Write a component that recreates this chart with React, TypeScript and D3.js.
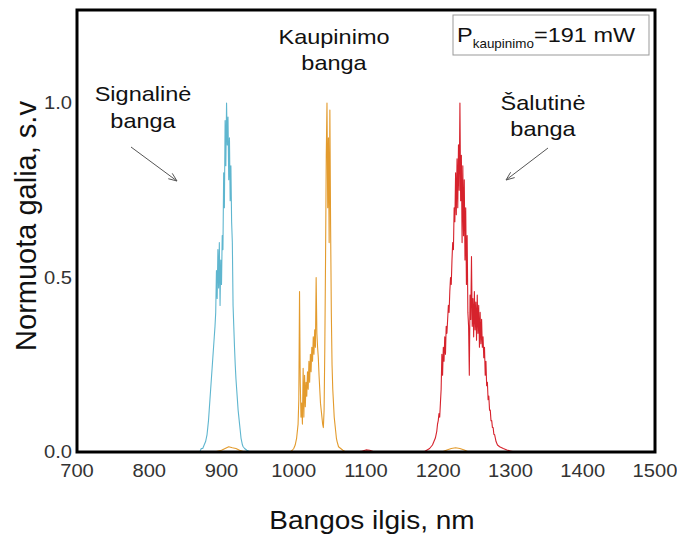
import React from 'react';
import * as d3 from 'd3';

const xTicks = [700, 800, 900, 1000, 1100, 1200, 1300, 1400, 1500];
const yTicks = [0, 0.5, 1.0];
const yTickLabels = ['0.0', '0.5', '1.0'];

// Signal wave (blue)
const signalNm = [
  866, 870, 872, 874, 876, 878, 880, 881, 882, 883, 884, 885, 886, 887, 888, 889, 890, 891, 892, 893,
  894, 895, 896, 897, 898, 899, 900, 901, 902, 903, 904, 905, 906, 907, 908, 909, 910, 911, 912, 913,
  914, 915, 916, 917, 918, 919, 920, 921, 922, 923, 924, 925, 926, 927, 928, 929, 930, 932, 935, 940,
];
const signalPower = [
  0.0, 0.0, 0.01, 0.01, 0.02, 0.03, 0.05, 0.07, 0.09, 0.12, 0.15, 0.18, 0.21, 0.24, 0.27, 0.3, 0.33, 0.36, 0.4, 0.52,
  0.44, 0.58, 0.47, 0.6, 0.42, 0.55, 0.48, 0.62, 0.58, 0.8, 0.7, 0.95, 0.82, 1.0, 0.88, 0.96, 0.78, 0.9, 0.72, 0.82,
  0.66, 0.6, 0.42, 0.36, 0.3, 0.25, 0.21, 0.18, 0.15, 0.12, 0.1, 0.08, 0.06, 0.04, 0.03, 0.02, 0.015, 0.01, 0.005, 0.0,
];

// Pump wave (orange)
const pumpNm = [
  890, 900, 905, 910, 915, 920, 925, 932,
  995, 998, 1000, 1002, 1004, 1006, 1007, 1008, 1009, 1010, 1011, 1012, 1013, 1014, 1015, 1016, 1017, 1018, 1019, 1020,
  1021, 1022, 1023, 1024, 1025, 1026, 1027, 1028, 1029, 1030, 1031, 1032, 1033, 1034, 1035, 1036, 1037, 1038, 1039, 1040,
  1041, 1042, 1043, 1044, 1045, 1046, 1047, 1048, 1049, 1050, 1051, 1052, 1053, 1054, 1055, 1056, 1057, 1058, 1059, 1060,
  1062, 1065, 1068, 1072,
  1205, 1212, 1218, 1224, 1230, 1236, 1242,
];
const pumpPower = [
  0.0, 0.005, 0.01, 0.015, 0.012, 0.01, 0.005, 0.0,
  0.0, 0.005, 0.01, 0.02, 0.04, 0.08, 0.15, 0.46, 0.2, 0.1, 0.14, 0.08, 0.24, 0.1, 0.22, 0.13, 0.2, 0.16, 0.23, 0.18,
  0.26, 0.2, 0.28, 0.23, 0.3, 0.26, 0.33, 0.28, 0.35, 0.3, 0.5, 0.34, 0.3, 0.27, 0.22, 0.18, 0.14, 0.12, 0.1, 0.08,
  0.07, 0.12, 0.3, 0.55, 0.85, 1.0, 0.7, 0.9, 0.6, 0.98, 0.65, 0.4, 0.25, 0.18, 0.14, 0.1, 0.08, 0.06, 0.04, 0.03,
  0.015, 0.01, 0.005, 0.0,
  0.0, 0.006, 0.01, 0.012, 0.01, 0.006, 0.0,
];

// Idler wave (red)
const idlerNm = [
  1088, 1095, 1100, 1105, 1112,
  1180, 1184, 1188, 1190, 1192, 1194, 1196, 1197, 1198, 1199, 1200, 1201, 1202, 1203, 1204, 1205, 1206, 1207, 1208, 1209,
  1210, 1211, 1212, 1213, 1214, 1215, 1216, 1217, 1218, 1219, 1220, 1221, 1222, 1223, 1224, 1225, 1226, 1227, 1228, 1229,
  1230, 1231, 1232, 1233, 1234, 1235, 1236, 1237, 1238, 1239, 1240, 1241, 1242, 1243, 1244, 1245, 1246, 1247, 1248, 1249,
  1250, 1251, 1252, 1253, 1254, 1255, 1256, 1257, 1258, 1259, 1260, 1261, 1262, 1263, 1264, 1265, 1266, 1267, 1268, 1269,
  1270, 1271, 1272, 1273, 1274, 1275, 1276, 1277, 1278, 1279, 1280, 1282, 1285, 1290, 1295, 1300, 1306,
];
const idlerPower = [
  0.0, 0.003, 0.006, 0.005, 0.0,
  0.0, 0.005, 0.01, 0.015, 0.02, 0.03, 0.04, 0.05, 0.06, 0.08, 0.09, 0.11, 0.1, 0.14, 0.18, 0.28, 0.22, 0.3, 0.26, 0.33,
  0.28, 0.36, 0.34, 0.38, 0.42, 0.4, 0.46, 0.5, 0.48, 0.55, 0.6, 0.58, 0.7, 0.66, 0.8, 0.68, 0.84, 0.7, 0.88, 0.75,
  1.0, 0.72, 0.85, 0.6, 0.82, 0.62, 0.78, 0.55, 0.7, 0.48, 0.62, 0.4, 0.36, 0.22, 0.45, 0.38, 0.56, 0.36, 0.44, 0.33,
  0.46, 0.35, 0.43, 0.32, 0.45, 0.34, 0.42, 0.3, 0.4, 0.31, 0.38, 0.3, 0.33, 0.27, 0.3, 0.22, 0.26, 0.19, 0.2, 0.15,
  0.16, 0.12, 0.12, 0.09, 0.09, 0.07, 0.07, 0.05, 0.05, 0.04, 0.03, 0.02, 0.015, 0.01, 0.006, 0.003, 0.0,
];

const FONT = "Arial, 'Liberation Sans', sans-serif";
const SX = 1.12;

function Arrow({ x1, y1, x2, y2 }: { x1: number; y1: number; x2: number; y2: number }) {
  const ang = Math.atan2(y2 - y1, x2 - x1);
  const L = 9;
  const a = 0.38;
  const p1 = [x2 - L * Math.cos(ang - a), y2 - L * Math.sin(ang - a)];
  const p2 = [x2 - L * Math.cos(ang + a), y2 - L * Math.sin(ang + a)];
  return (
    <g stroke="#555" strokeWidth={1} fill="none">
      <line x1={x1} y1={y1} x2={x2} y2={y2} />
      <polyline points={`${p1[0]},${p1[1]} ${x2},${y2} ${p2[0]},${p2[1]}`} />
    </g>
  );
}

function SText({ x, y, size, children, anchor = 'middle', fill = '#111' }: any) {
  return (
    <text
      transform={`translate(${x},${y}) scale(${SX},1)`}
      fontSize={size}
      textAnchor={anchor}
      fill={fill}
      fontFamily={FONT}
    >
      {children}
    </text>
  );
}

export default function App() {
  const W = 677;
  const H = 536;
  const left = 77, right = 655, top = 10, bottom = 452;
  const x = d3.scaleLinear().domain([700, 1500]).range([left, right]);
  const y = d3.scaleLinear().domain([0, 1]).range([bottom, 103]);
  const line = d3
    .line<[number, number]>()
    .x((d) => x(d[0]))
    .y((d) => y(d[1]));

  const series = [
    { nm: signalNm, p: signalPower, color: '#5fb6cf' },
    { nm: idlerNm, p: idlerPower, color: '#d6222c' },
    { nm: pumpNm, p: pumpPower, color: '#e39b2d' },
  ];

  return (
    <svg
      width={W}
      height={H}
      style={{ position: 'absolute', left: 0, top: 0, background: '#fff' }}
      fontFamily={FONT}
    >
      <rect x={0} y={0} width={W} height={H} fill="#fff" />
      <defs>
        <clipPath id="plotClip">
          <rect x={left} y={top} width={right - left} height={bottom - top} />
        </clipPath>
      </defs>
      <g clipPath="url(#plotClip)">
        {series.map((s, i) => (
          <path
            key={i}
            d={line(d3.zip(s.nm, s.p) as [number, number][]) || ''}
            fill="none"
            stroke={s.color}
            strokeWidth={1.1}
            strokeLinejoin="round"
          />
        ))}
      </g>
      <rect x={left} y={top} width={right - left} height={bottom - top} fill="none" stroke="#000" strokeWidth={3} />

      {xTicks.map((t) => (
        <SText key={t} x={x(t)} y={477} size={18} fill="#333">
          {t}
        </SText>
      ))}
      {yTicks.map((t, i) => (
        <SText key={t} x={72} y={y(t) + 6} size={18} anchor="end" fill="#333">
          {yTickLabels[i]}
        </SText>
      ))}

      <SText x={372} y={529} size={25}>
        Bangos ilgis, nm
      </SText>
      <text
        transform={`translate(36,226) rotate(-90)`}
        fontSize={29}
        textAnchor="middle"
        fill="#111"
        fontFamily={FONT}
      >
        Normuota galia, s.v
      </text>

      <SText x={143} y={101} size={21}>Signalinė</SText>
      <SText x={143} y={128} size={21}>banga</SText>
      <SText x={334} y={44} size={21}>Kaupinimo</SText>
      <SText x={334} y={70} size={21}>banga</SText>
      <SText x={543} y={110} size={21}>Šalutinė</SText>
      <SText x={543} y={136} size={21}>banga</SText>

      <Arrow x1={131} y1={147} x2={177} y2={181} />
      <Arrow x1={548} y1={148} x2={506} y2={180} />

      <rect x={453} y={15} width={196} height={40} fill="#fff" stroke="#999" strokeWidth={1} />
      <text transform={`translate(457,42) scale(${SX},1)`} fontFamily={FONT} fill="#111">
        <tspan fontSize={21}>P</tspan>
        <tspan fontSize={12} dy={6}>kaupinimo</tspan>
        <tspan fontSize={21} dy={-6}>=191 mW</tspan>
      </text>
    </svg>
  );
}
